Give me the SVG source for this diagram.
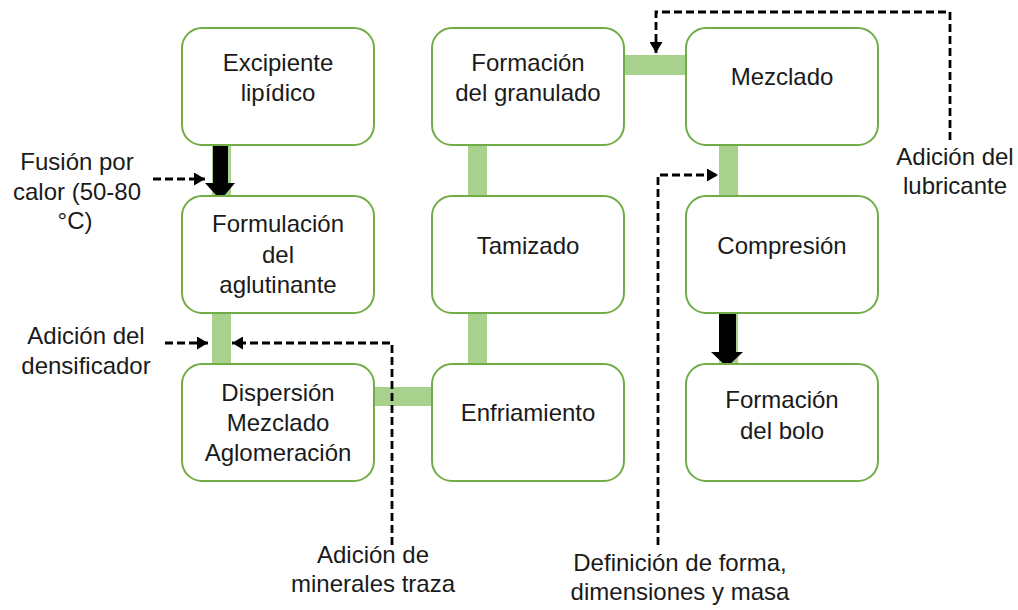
<svg xmlns="http://www.w3.org/2000/svg" width="1018" height="610" viewBox="0 0 1018 610">
<style>
.box{fill:#fff;stroke:#70ad47;stroke-width:2}
.lk{fill:#a9d18e}
.t{font-family:"Liberation Sans",Arial,sans-serif;font-size:24px;fill:#1a1a1a;text-anchor:middle}
.d{fill:none;stroke:#000;stroke-width:2.8;stroke-dasharray:8,4}
</style>
<defs>
<marker id="ah" markerUnits="userSpaceOnUse" markerWidth="13" markerHeight="13" refX="11" refY="6.5" orient="auto">
<path d="M0,0 L11,6.5 L0,13 Z" fill="#000"/>
</marker>
</defs>
<rect width="1018" height="610" fill="#fff"/>
<g id="connectors">
<rect class="lk" x="212" y="144" width="19" height="53"/>
<path d="M213,144 H228 V183 H235 L220.5,200 L205,183 H213 Z" fill="#000"/>
<rect class="lk" x="212" y="312" width="19" height="53"/>
<rect class="lk" x="468" y="144" width="19" height="53"/>
<rect class="lk" x="468" y="312" width="19" height="53"/>
<rect class="lk" x="373" y="387" width="60" height="19"/>
<rect class="lk" x="623" y="55" width="64" height="20"/>
<rect class="lk" x="719" y="144" width="19" height="53"/>
<rect class="lk" x="719" y="312" width="19" height="53"/>
<path d="M719,312 H736 V352 H743 L727,367 L711,352 H719 Z" fill="#000"/>
<path class="d" d="M153,179 H205" marker-end="url(#ah)"/>
<path class="d" d="M165,343 H208" marker-end="url(#ah)"/>
<path class="d" d="M392,545 V343 H232" marker-end="url(#ah)"/>
<path class="d" d="M950,140 V12 H656 V53" marker-end="url(#ah)"/>
<path class="d" d="M658,545 V175 H718" marker-end="url(#ah)"/>
</g>
<g id="n1"><rect class="box" x="182" y="28" width="192" height="117" rx="20"/><text class="t" x="278" y="71">Excipiente</text><text class="t" x="278" y="101">lipídico</text></g>
<g id="n2"><rect class="box" x="182" y="196" width="192" height="117" rx="20"/><text class="t" x="278" y="232">Formulación</text><text class="t" x="278" y="263">del</text><text class="t" x="278" y="293">aglutinante</text></g>
<g id="n3"><rect class="box" x="182" y="364" width="192" height="117" rx="20"/><text class="t" x="278" y="401">Dispersión</text><text class="t" x="278" y="431">Mezclado</text><text class="t" x="278" y="461">Aglomeración</text></g>
<g id="n4"><rect class="box" x="432" y="364" width="192" height="117" rx="20"/><text class="t" x="528" y="421">Enfriamiento</text></g>
<g id="n5"><rect class="box" x="432" y="196" width="192" height="117" rx="20"/><text class="t" x="528" y="254">Tamizado</text></g>
<g id="n6"><rect class="box" x="432" y="28" width="192" height="117" rx="20"/><text class="t" x="528" y="71">Formación</text><text class="t" x="528" y="101">del granulado</text></g>
<g id="n7"><rect class="box" x="686" y="28" width="192" height="117" rx="20"/><text class="t" x="782" y="85">Mezclado</text></g>
<g id="n8"><rect class="box" x="686" y="196" width="192" height="117" rx="20"/><text class="t" x="782" y="254">Compresión</text></g>
<g id="n9"><rect class="box" x="686" y="364" width="192" height="117" rx="20"/><text class="t" x="782" y="408">Formación</text><text class="t" x="782" y="439">del bolo</text></g>
<g id="labels">
<text class="t" x="77" y="170">Fusión por</text><text class="t" x="77" y="200">calor (50-80</text><text class="t" x="75" y="229">°C)</text>
<text class="t" x="86" y="344">Adición del</text><text class="t" x="86" y="374">densificador</text>
<text class="t" x="373" y="563">Adición de</text><text class="t" x="373" y="592">minerales traza</text>
<text class="t" x="680" y="571">Definición de forma,</text><text class="t" x="680" y="600">dimensiones y masa</text>
<text class="t" x="955" y="165">Adición del</text><text class="t" x="955" y="194">lubricante</text>
</g>
</svg>
